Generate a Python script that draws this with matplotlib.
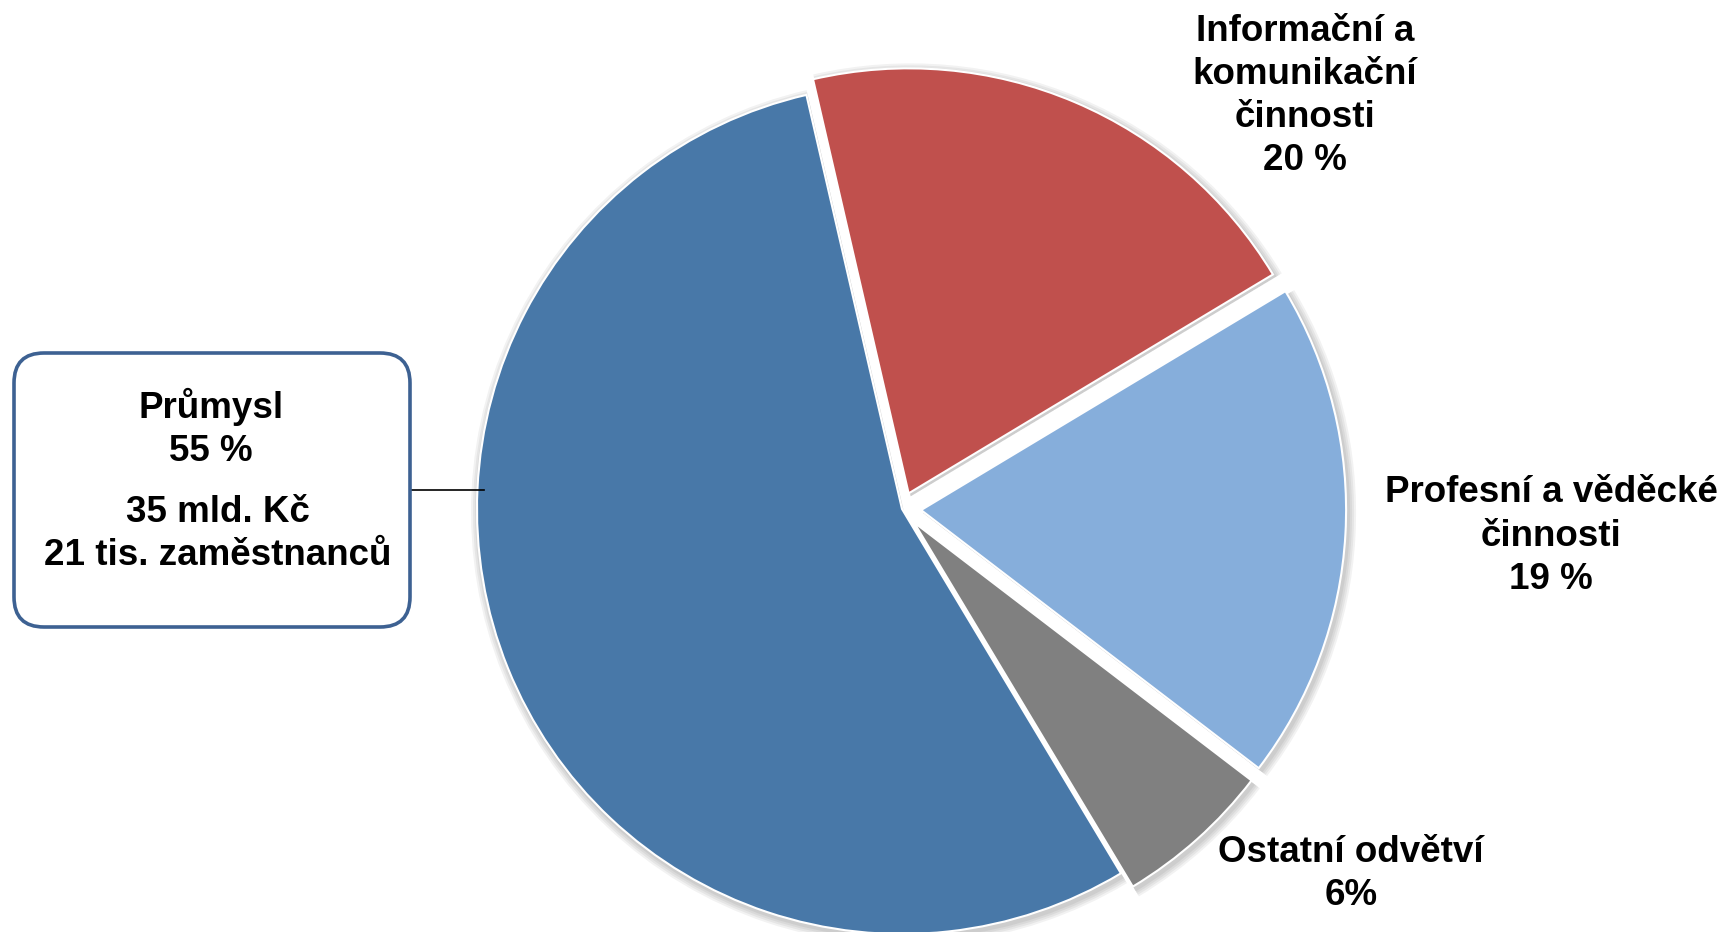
import matplotlib
matplotlib.use("Agg")
import matplotlib.pyplot as plt
from matplotlib.patches import FancyBboxPatch

plt.rcParams['font.family'] = ['Liberation Sans', 'DejaVu Sans']

# slices in drawing order (counter-clockwise from the start angle)
sectors = ["Informační a\nkomunikační\nčinnosti", "Průmysl", "Ostatní odvětví",
           "Profesní a věděcké\nčinnosti"]
shares = [20, 55, 6, 19]
share_text = ["20 %", "55 %", "6%", "19 %"]
colors = ["#C0504D", "#4878A8", "#808080", "#86AEDB"]

# extra info for Průmysl
prumysl_extra = ["35 mld. Kč", "21 tis. zaměstnanců"]

W, H = 1722, 932
fig = plt.figure(figsize=(W / 100, H / 100), dpi=100)
ax = fig.add_axes([0, 0, 1, 1])

cx, cy, R = 902, 423, 425
start = 31
# explode offsets (pie uses absolute data units, so scale by radius)
explode = [f * R for f in (0.04, 0.0, 0.042, 0.045)]

# soft shadow behind the pie
for i in range(4):
    ax.pie(shares, radius=R + 2 + 2 * i, center=(cx + 2, cy - 3), startangle=start,
           explode=explode, colors=["#000000"] * 4,
           wedgeprops=dict(alpha=0.05, linewidth=0), frame=True)

wedges, _ = ax.pie(shares, radius=R, center=(cx, cy), startangle=start,
                   explode=explode, colors=colors,
                   wedgeprops=dict(edgecolor="white", linewidth=1.5), frame=True)

ax.set_xlim(0, W)
ax.set_ylim(0, H)
ax.set_aspect('equal')
ax.axis('off')

fs = 26.5
ls = 1.3
# outside labels (red, grey, light blue)
label_pos = {0: (1305, 836), 2: (1351, 58), 3: (1551, 396)}
for i, (x, y) in label_pos.items():
    ax.text(x, y, sectors[i] + "\n" + share_text[i], ha='center', va='center',
            fontsize=fs, fontweight='bold', multialignment='center', linespacing=ls)

# callout box for Průmysl
box = FancyBboxPatch((14 + 30, 305 + 30), 396 - 60, 274 - 60,
                     boxstyle="round,pad=30", facecolor="white",
                     edgecolor="#3D6192", linewidth=2.6, zorder=3)
ax.add_patch(box)
ax.plot([410, 484], [442, 442], color="black", linewidth=1.2, zorder=2)
ax.text(211, 504, sectors[1] + "\n" + share_text[1], ha='center', va='center',
        fontsize=fs, fontweight='bold', zorder=4, linespacing=ls)
ax.text(218, 398, "\n".join(prumysl_extra), ha='center', va='center',
        fontsize=fs, fontweight='bold', zorder=4, linespacing=ls)

fig.savefig("out.png", dpi=100, facecolor="white")
